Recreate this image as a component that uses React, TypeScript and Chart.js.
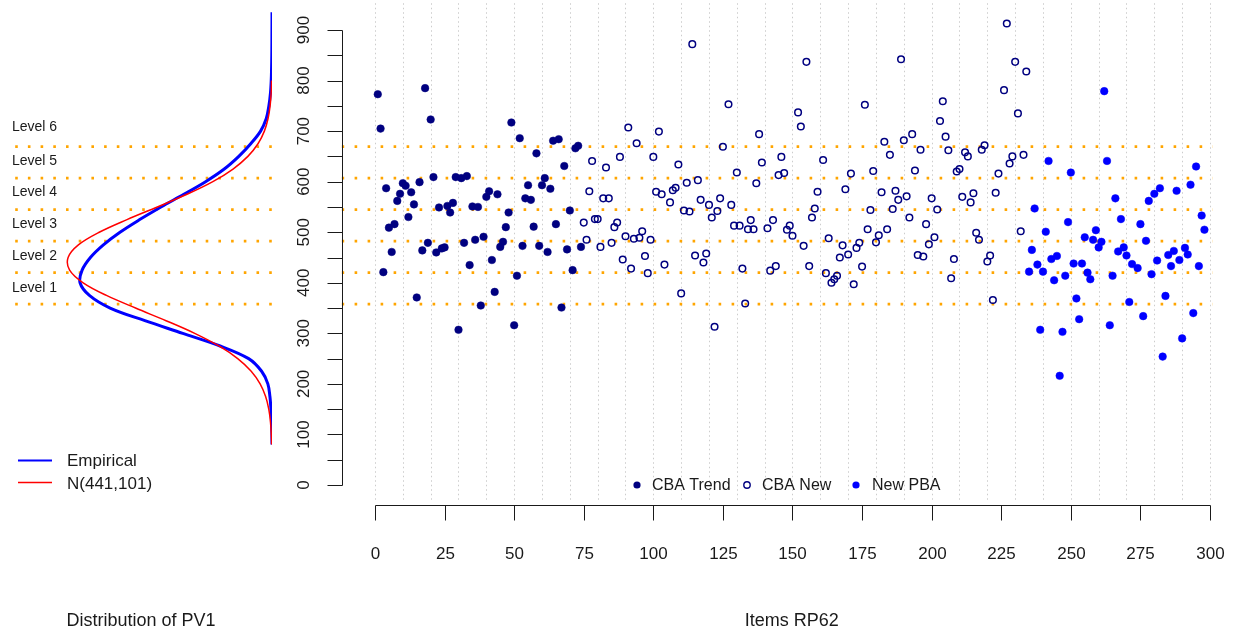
import React, { useEffect, useRef } from "react";
import { Chart, registerables } from "chart.js";

Chart.register(...registerables);

const FONT = '"Liberation Sans", Arial, Helvetica, sans-serif';

// ---------- Scatter data (items RP62) ----------
const trendItems = [
  1, 2, 3, 4, 5, 6, 7, 8, 9, 10, 11, 12, 13, 14, 15, 16, 17, 18, 19, 20,
  21, 22, 23, 24, 25, 26, 27, 28, 29, 30, 31, 32, 33, 34, 35, 36, 37, 38, 39, 40,
  41, 42, 43, 44, 45, 46, 47, 48, 49, 50, 51, 52, 53, 54, 55, 56, 57, 58, 59, 60,
  61, 62, 63, 64, 65, 66, 67, 68, 69, 70, 71, 72, 73, 74,
];
const trendScores = [
  773, 705, 421, 587, 509, 461, 516, 562, 576, 597,
  592, 530, 579, 555, 371, 599, 464, 785, 479, 723,
  609, 460, 549, 468, 470, 552, 539, 558, 609, 307,
  607, 479, 611, 435, 551, 485, 550, 355, 491, 570,
  581, 445, 382, 575, 471, 481, 510, 539, 717, 316,
  414, 686, 473, 567, 593, 564, 511, 656, 473, 593,
  607, 461, 586, 681, 516, 684, 351, 631, 466, 543,
  425, 666, 671, 471,
];

const newItems = [
  75, 76, 77, 78, 79, 80, 81, 82, 83, 84, 85, 86, 87, 88, 89, 90, 91, 92, 93, 94,
  95, 96, 97, 98, 99, 100, 101, 102, 103, 104, 106, 107, 108, 109, 110, 111, 112, 113, 114, 115,
  116, 117, 118, 119, 120, 121, 122, 123, 124, 125, 127, 128, 129, 130, 131, 132, 133, 134, 135, 136,
  137, 138, 139, 141, 142, 143, 144, 145, 146, 147, 148, 149, 150, 152, 153, 154, 155, 156, 157, 158,
  159, 161, 162, 163, 164, 165, 166, 167, 168, 169, 170, 171, 172, 173, 174, 175, 176, 177, 178, 179,
  180, 181, 182, 183, 184, 185, 186, 187, 188, 189, 190, 191, 192, 193, 194, 195, 196, 197, 198, 199,
  200, 201, 202, 203, 204, 205, 206, 207, 208, 209, 210, 211, 212, 213, 214, 215, 216, 217, 218, 219,
  220, 221, 222, 223, 224, 226, 227, 228, 229, 230, 231, 232, 233, 234,
];
const newScores = [
  519, 485, 581, 641, 526, 526, 471, 567, 628, 567, 479, 510, 519, 649, 446, 492, 707, 428, 487, 676,
  489, 502, 453, 419, 485, 649, 580, 699, 575, 436, 559, 583, 588, 634, 379, 543, 598, 541, 872, 454,
  603, 564, 440, 458, 554, 529, 313, 542, 567, 669, 753, 554, 513, 618, 513, 428, 359, 506, 524, 506,
  597, 694, 638, 508, 424, 524, 433, 613, 649, 617, 505, 513, 493, 737, 709, 473, 837, 433, 529, 547,
  580, 643, 419, 488, 400, 407, 414, 450, 474, 585, 456, 616, 397, 469, 479, 432, 752, 506, 544, 621,
  480, 494, 579, 679, 506, 653, 546, 582, 564, 842, 682, 571, 529, 694, 622, 455, 663, 452, 516, 476,
  567, 490, 545, 720, 759, 689, 662, 409, 447, 620, 625, 570, 658, 650, 559, 577, 499, 485, 663, 672,
  442, 454, 366, 578, 616, 781, 913, 636, 650, 837, 735, 502, 653, 818,
];

const pbaItems = [
  235, 236, 237, 238, 239, 240, 241, 242, 243, 244, 245, 246, 247, 248, 249, 250, 251, 252, 253, 254,
  255, 256, 257, 258, 259, 260, 261, 262, 263, 264, 265, 266, 267, 268, 269, 270, 271, 272, 274, 275,
  276, 277, 278, 279, 280, 281, 282, 283, 284, 285, 286, 287, 288, 289, 290, 291, 292, 293, 294, 295,
  296, 297, 298,
];
const pbaScores = [
  422, 465, 547, 436, 307, 422, 501, 641, 447, 405, 453, 216, 303, 414, 520, 618, 438, 369, 328, 438,
  490, 420, 407, 485, 504, 470, 481, 779, 641, 316, 414, 567, 462, 526, 470, 454, 362, 437, 429, 516,
  334, 483, 562, 417, 576, 444, 587, 254, 374, 455, 433, 463, 582, 445, 290, 469, 456, 594, 340, 630,
  433, 533, 505,
];

// ---------- Proficiency levels ----------
const levelCuts = [357.77, 420.07, 482.38, 544.68, 606.99, 669.3];
const levelNames = ["Level 1", "Level 2", "Level 3", "Level 4", "Level 5", "Level 6"];
const levelNameScores = [390, 452, 516, 579, 640, 708];

// ---------- Axis ticks ----------
const yTickValues = [0, 50, 100, 150, 200, 250, 300, 350, 400, 450, 500, 550, 600, 650, 700, 750, 800, 850, 900];
const yLabelValues = [0, 100, 200, 300, 400, 500, 600, 700, 800, 900];
const xTickValues = [0, 25, 50, 75, 100, 125, 150, 175, 200, 225, 250, 275, 300];
const gridItems = [0, 10, 20, 30, 40, 50, 60, 70, 80, 90, 100, 110, 120, 130, 140, 150, 160, 170, 180, 190, 200, 210, 220, 230, 240, 250, 260, 270, 280, 290, 300];

// ---------- Distribution of PV1 ----------
const empiricalScores = [
  80, 100, 125, 150, 175, 200, 225, 250, 275, 300, 325, 350, 375, 400, 425, 450, 475, 500,
  525, 550, 575, 600, 625, 650, 675, 700, 725, 750, 775, 800, 825, 850, 875, 900, 925, 935,
];
const empiricalDensity = [
  0, 0.000003, 0.000008, 0.00002, 0.00004, 0.00008, 0.0002, 0.00045, 0.001, 0.00172, 0.00245, 0.00312,
  0.00352, 0.0037, 0.00366, 0.0035, 0.00325, 0.00293, 0.00255, 0.00214, 0.0017, 0.00128, 0.00092, 0.00064,
  0.00041, 0.00022, 0.00011, 0.00006, 0.00003, 0.000015, 0.000008, 0.000004, 0.000002, 0.000001, 0, 0,
];
const normalScores = [
  80, 100, 125, 150, 175, 200, 225, 250, 275, 300, 325, 350, 375, 400, 425, 450, 475, 500,
  525, 550, 575, 600, 625, 650, 675, 700, 725, 750, 775, 800,
];
const normalDensity = [
  0.0000066, 0.0000132, 0.0000296, 0.0000623, 0.000123, 0.000229, 0.000401, 0.000661, 0.001023, 0.00149,
  0.002042, 0.00263, 0.003191, 0.00364, 0.003901, 0.00393, 0.003732, 0.00333, 0.002795, 0.00221,
  0.001638, 0.00114, 0.000751, 0.000465, 0.00027, 0.000147, 0.0000758, 0.0000367, 0.0000167, 0.0000071,
];

const NAVY = "#000080";
const BLUE = "#0000FF";
const RED = "#FF0000";
const ORANGE = "#FFA500";
const INK = "#1a1a1a";

const Y_MIN = -30;
const Y_MAX = 945;

const pts = (xs: number[], ys: number[]) => xs.map((x, i) => ({ x, y: ys[i] }));

const rightDecor = {
  id: "rightDecor",
  beforeDatasetsDraw(chart: any) {
    const { ctx, chartArea, scales } = chart;
    const x = scales.x;
    ctx.save();
    ctx.strokeStyle = "rgba(170,170,170,0.6)";
    ctx.lineWidth = 1;
    ctx.setLineDash([1.5, 3]);
    gridItems.forEach((v) => {
      const px = Math.round(x.getPixelForValue(v)) + 0.5;
      ctx.beginPath();
      ctx.moveTo(px, chartArea.top - 4);
      ctx.lineTo(px, chartArea.bottom);
      ctx.stroke();
    });
    ctx.restore();
  },
  afterDraw(chart: any) {
    const { ctx, chartArea, scales } = chart;
    const x = scales.x;
    const y = scales.y;
    ctx.save();
    ctx.strokeStyle = INK;
    ctx.fillStyle = INK;
    ctx.lineWidth = 1;
    ctx.setLineDash([]);

    // y axis
    const ax = Math.round(x.getPixelForValue(-12)) + 0.5;
    ctx.beginPath();
    ctx.moveTo(ax, Math.round(y.getPixelForValue(0)) + 0.5);
    ctx.lineTo(ax, Math.round(y.getPixelForValue(900)) + 0.5);
    ctx.stroke();
    yTickValues.forEach((v) => {
      const py = Math.round(y.getPixelForValue(v)) + 0.5;
      ctx.beginPath();
      ctx.moveTo(ax, py);
      ctx.lineTo(ax - 15, py);
      ctx.stroke();
    });
    ctx.font = `17px ${FONT}`;
    ctx.textAlign = "center";
    ctx.textBaseline = "alphabetic";
    yLabelValues.forEach((v) => {
      const py = y.getPixelForValue(v);
      ctx.save();
      ctx.translate(ax - 34, py);
      ctx.rotate(-Math.PI / 2);
      ctx.fillText(String(v), 0, 0);
      ctx.restore();
    });

    // x axis
    const ay = 505.5;
    ctx.beginPath();
    ctx.moveTo(Math.round(x.getPixelForValue(0)) + 0.5, ay);
    ctx.lineTo(Math.round(x.getPixelForValue(300)) + 0.5, ay);
    ctx.stroke();
    xTickValues.forEach((v) => {
      const px = Math.round(x.getPixelForValue(v)) + 0.5;
      ctx.beginPath();
      ctx.moveTo(px, ay);
      ctx.lineTo(px, ay + 15);
      ctx.stroke();
      ctx.fillText(String(v), px, 559);
    });

    // axis title
    ctx.font = `18px ${FONT}`;
    ctx.fillText("Items RP62", (chartArea.left + chartArea.right) / 2, 626);

    // legend
    ctx.font = `16px ${FONT}`;
    ctx.textAlign = "left";
    ctx.textBaseline = "middle";
    const ly = 485;
    ctx.fillStyle = NAVY;
    ctx.beginPath();
    ctx.arc(637, ly, 3.6, 0, Math.PI * 2);
    ctx.fill();
    ctx.strokeStyle = NAVY;
    ctx.lineWidth = 1.4;
    ctx.beginPath();
    ctx.arc(747, ly, 3.2, 0, Math.PI * 2);
    ctx.stroke();
    ctx.fillStyle = BLUE;
    ctx.beginPath();
    ctx.arc(856, ly, 3.6, 0, Math.PI * 2);
    ctx.fill();
    ctx.fillStyle = INK;
    ctx.fillText("CBA Trend", 652, ly + 1);
    ctx.fillText("CBA New", 762, ly + 1);
    ctx.fillText("New PBA", 872, ly + 1);
    ctx.restore();
  },
};

const leftDecor = {
  id: "leftDecor",
  afterDraw(chart: any) {
    const { ctx, chartArea, scales } = chart;
    const y = scales.y;
    ctx.save();
    ctx.fillStyle = INK;
    ctx.font = `14px ${FONT}`;
    ctx.textAlign = "left";
    ctx.textBaseline = "middle";
    levelNames.forEach((name, i) => {
      ctx.fillText(name, 12, y.getPixelForValue(levelNameScores[i]));
    });

    // legend
    ctx.lineWidth = 2;
    ctx.strokeStyle = BLUE;
    ctx.beginPath();
    ctx.moveTo(18, 460.5);
    ctx.lineTo(52, 460.5);
    ctx.stroke();
    ctx.lineWidth = 1.5;
    ctx.strokeStyle = RED;
    ctx.beginPath();
    ctx.moveTo(18, 482.5);
    ctx.lineTo(52, 482.5);
    ctx.stroke();
    ctx.font = `17px ${FONT}`;
    ctx.fillText("Empirical", 67, 461);
    ctx.fillText("N(441,101)", 67, 484);

    ctx.font = `18px ${FONT}`;
    ctx.textAlign = "center";
    ctx.textBaseline = "alphabetic";
    ctx.fillText("Distribution of PV1", (chartArea.left + chartArea.right) / 2, 626);
    ctx.restore();
  },
};

export default function App() {
  const leftRef = useRef<HTMLCanvasElement>(null);
  const rightRef = useRef<HTMLCanvasElement>(null);

  useEffect(() => {
    const levelDatasetsRight = levelCuts.map((c) => ({
      type: "line" as const,
      data: [
        { x: -12, y: c },
        { x: 301, y: c },
      ],
      borderColor: ORANGE,
      borderWidth: 2.6,
      borderDash: [2.6, 10.4],
      borderCapStyle: "butt" as const,
      pointRadius: 0,
      showLine: true,
      fill: false,
      order: 10,
    }));

    const right = new Chart(rightRef.current as HTMLCanvasElement, {
      type: "scatter",
      data: {
        datasets: [
          ...levelDatasetsRight,
          {
            data: pts(trendItems, trendScores),
            pointRadius: 3.8,
            pointBackgroundColor: NAVY,
            pointBorderColor: NAVY,
            pointBorderWidth: 0.5,
            order: 1,
          },
          {
            data: pts(newItems, newScores),
            pointRadius: 3.3,
            pointBackgroundColor: "rgba(0,0,0,0)",
            pointBorderColor: NAVY,
            pointBorderWidth: 1.5,
            order: 1,
          },
          {
            data: pts(pbaItems, pbaScores),
            pointRadius: 3.8,
            pointBackgroundColor: BLUE,
            pointBorderColor: BLUE,
            pointBorderWidth: 0.5,
            order: 1,
          },
        ] as any,
      },
      options: {
        responsive: false,
        animation: false,
        devicePixelRatio: 1,
        events: [],
        layout: { autoPadding: false, padding: { left: 341.6, right: 0, top: 7.25, bottom: 127.83 } },
        plugins: { legend: { display: false }, tooltip: { enabled: false } },
        scales: {
          x: { type: "linear", min: -12, max: 311.5, display: false },
          y: { type: "linear", min: Y_MIN, max: Y_MAX, display: false },
        },
      } as any,
      plugins: [rightDecor],
    });

    const levelDatasetsLeft = levelCuts.map((c) => ({
      data: [
        { x: 0.00495, y: c },
        { x: 0, y: c },
      ],
      borderColor: ORANGE,
      borderWidth: 2.6,
      borderDash: [2.6, 10.1],
      borderCapStyle: "butt" as const,
      pointRadius: 0,
      showLine: true,
      fill: false,
      order: 10,
    }));

    const left = new Chart(leftRef.current as HTMLCanvasElement, {
      type: "scatter",
      data: {
        datasets: [
          ...levelDatasetsLeft,
          {
            data: pts(empiricalDensity, empiricalScores),
            showLine: true,
            borderColor: BLUE,
            borderWidth: 3,
            pointRadius: 0,
            tension: 0.35,
            fill: false,
            order: 2,
          },
          {
            data: pts(normalDensity, normalScores),
            showLine: true,
            borderColor: RED,
            borderWidth: 1.5,
            pointRadius: 0,
            tension: 0.35,
            fill: false,
            order: 1,
          },
        ] as any,
      },
      options: {
        responsive: false,
        animation: false,
        devicePixelRatio: 1,
        events: [],
        layout: { autoPadding: false, padding: { left: 10, right: 73, top: 7.25, bottom: 127.83 } },
        plugins: { legend: { display: false }, tooltip: { enabled: false } },
        scales: {
          x: { type: "linear", min: 0, max: 0.00505, reverse: true, display: false },
          y: { type: "linear", min: Y_MIN, max: Y_MAX, display: false },
        },
      } as any,
      plugins: [leftDecor],
    });

    return () => {
      right.destroy();
      left.destroy();
    };
  }, []);

  return (
    <div style={{ position: "fixed", left: 0, top: 0, width: 1242, height: 628, background: "#fff" }}>
      <canvas ref={rightRef} width={1242} height={628} style={{ position: "absolute", left: 0, top: 0 }} />
      <canvas ref={leftRef} width={345} height={628} style={{ position: "absolute", left: 0, top: 0 }} />
    </div>
  );
}
